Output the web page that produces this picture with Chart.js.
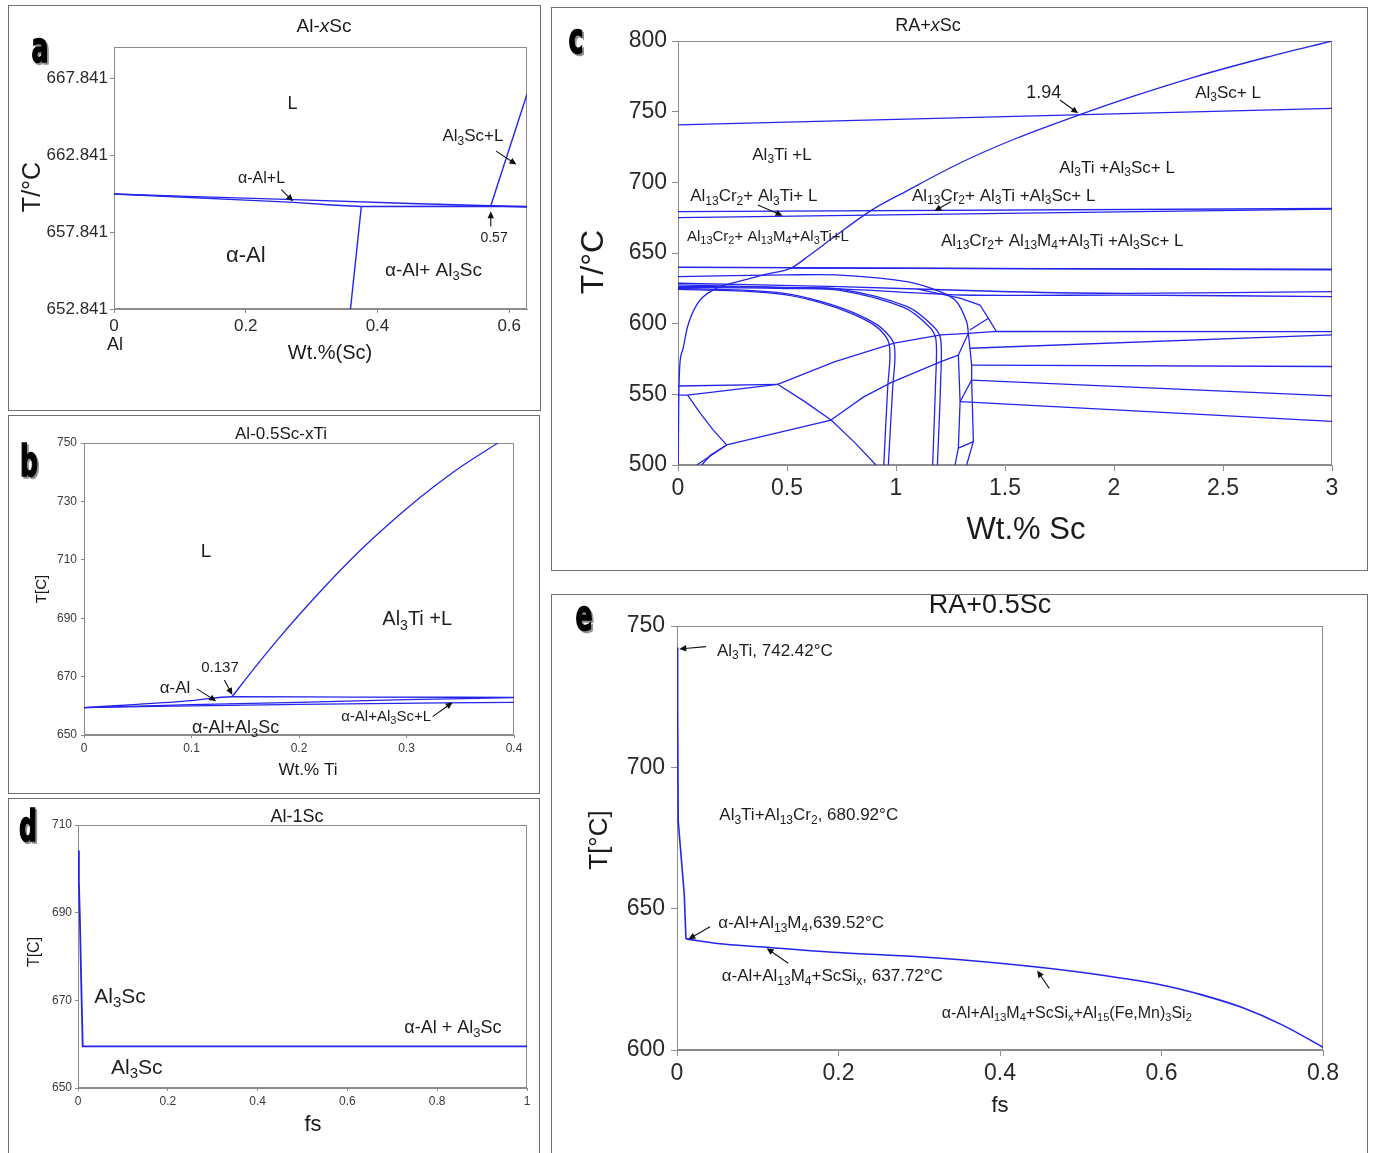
<!DOCTYPE html>
<html><head><meta charset="utf-8">
<script src="https://cdn.jsdelivr.net/npm/chart.js@4.4.1/dist/chart.umd.min.js"></script>
<style>
html,body{margin:0;padding:0;background:#fff;width:1375px;height:1153px;overflow:hidden;}
.cv{position:absolute;}
.frame{position:absolute;box-sizing:border-box;border:1.5px solid #6f6f6f;pointer-events:none;}
</style></head><body>
<script>
// ================= DATA =================
// ---- Panel a : Al-xSc ----
const aTicksX = [0, 0.2, 0.4, 0.6];
const aTickLabelsX = ['0', '0.2', '0.4', '0.6'];
const aTicksY = [652.841, 657.841, 662.841, 667.841];
const aTickLabelsY = ['652.841', '657.841', '662.841', '667.841'];
const aLiquidus = [[0,660.32],[0.1,660.18],[0.273,659.95],[0.45,659.7],[0.572,659.55],[0.627,659.5]];
const aSolidus  = [[0,660.32],[0.1,660.12],[0.2,659.92],[0.273,659.77],[0.33,659.6],[0.3755,659.5]];
const aEutectic = [[0.3755,659.5],[0.572,659.52],[0.627,659.47]];
const aSolvus   = [[0.3755,659.5],[0.359,652.841]];
const aAl3ScLiq = [[0.572,659.55],[0.627,666.8]];

// ---- Panel b : Al-0.5Sc-xTi ----
const bTicksX = [0, 0.1, 0.2, 0.3, 0.4];
const bTickLabelsX = ['0', '0.1', '0.2', '0.3', '0.4'];
const bTicksY = [650, 670, 690, 710, 730, 750];
const bTickLabelsY = ['650', '670', '690', '710', '730', '750'];
const bAl3TiLiq = [[0.1377,663.1],[0.16,673.6],[0.18,682.6],[0.2,691.1],[0.225,701.2],[0.25,710.7],[0.275,719.4],[0.3,727.5],[0.325,734.9],[0.35,741.7],[0.385,750]];
const bUpper = [[0,659.4],[0.05,660.5],[0.1,661.8],[0.1377,663.1],[0.25,663.0],[0.4,662.9]];
const bMiddle = [[0,659.4],[0.1,660.4],[0.2,661.2],[0.3,662.1],[0.4,662.8]];
const bLower = [[0,659.4],[0.2,660.5],[0.4,661.2]];

// ---- Panel c : RA+xSc ----
const cTicksX = [0, 0.5, 1, 1.5, 2, 2.5, 3];
const cTickLabelsX = ['0', '0.5', '1', '1.5', '2', '2.5', '3'];
const cTicksY = [500, 550, 600, 650, 700, 750, 800];
const cTickLabelsY = ['500', '550', '600', '650', '700', '750', '800'];
const cAl3TiLiq = [[0,740.6],[3,752.3]];
const cAl3ScCurve = [[0.001,500],[0.003,540],[0.008,570],[0.021,581],[0.044,598],[0.09,614.4],[0.167,624.3],[0.274,629.7],[0.4,634.8],[0.518,639.3],[0.6,648],[0.7,659.5],[0.885,680],[1.05,694],[1.294,713.7],[1.55,731],[1.853,748.4],[2.1,761.5],[2.369,774.5],[2.7,788.5],[3,800]];
const cCr2Upper = [[0,679.3],[3,681.5]];
const cCr2Lower = [[0,675.1],[3,681.0]];
const cM4Line = [[0,639.9],[3,638.1]];
const cM4Line2 = [[0.518,639.3],[3,638.5]];
const cH1 = [[0,628.6],[0.743,626.2],[1.523,622.6],[2.06,621.5],[3,622.7]];
const cH2 = [[0,627.4],[0.743,624.6],[1.3,620.3],[2.06,620.2],[3,619.2]];
const cArc3 = [[0,633.3],[0.5,634.5],[0.743,634.4],[1.049,629.7],[1.202,622.6],[1.278,615.5],[1.324,601.4],[1.332,593.2]];
const cArc1a = [[0,625.0],[0.3,623.8],[0.488,621.5],[0.65,616],[0.794,608.5],[0.916,599],[0.965,592],[0.99,586],[0.995,575],[0.985,555],[0.965,500]];
const cArc1b = [[0,624.2],[0.3,623.0],[0.488,620.5],[0.65,615],[0.794,607.3],[0.9,599],[0.948,592],[0.968,586],[0.972,575],[0.962,555],[0.944,500]];
const cArc2a = [[0,626.2],[0.3,626],[0.5,625.5],[0.743,624.5],[1.049,612.3],[1.171,598.2],[1.205,589],[1.205,560],[1.19,500]];
const cArc2b = [[0,625.6],[0.3,625.3],[0.5,624.8],[0.743,623.6],[1.035,611.5],[1.15,598.2],[1.183,589],[1.182,560],[1.168,500]];
const cLine594 = [[0.457,557.1],[0.717,573],[0.992,586.3],[1.206,592],[1.332,593.2],[1.46,594.5],[3,594.4]];
const cLine592 = [[1.34,582.6],[3,592.1]];
const cLine570 = [[1.347,570.7],[3,569.7]];
const cLine560 = [[1.347,560.1],[3,548.9]];
const cLine545 = [[1.294,544.8],[3,530.8]];
const cLine556 = [[0,555.9],[0.457,557.1]];
const cLine549 = [[0,549.5],[0.044,549.5],[0.457,557.1]];
const cJ1 = [[0.044,549.5],[0.1,537],[0.16,525],[0.223,514.2]];
const cJ2 = [[0.223,514.2],[0.702,531.8]];
const cJ3 = [[0.457,557.1],[0.58,545],[0.702,531.8],[0.81,516],[0.908,500]];
const cJ4 = [[0.702,531.8],[0.85,548],[0.977,558.3],[1.206,573.1],[1.286,577.8]];
const cJ5a = [[0.223,514.2],[0.086,500]];
const cJ5b = [[0.223,514.2],[0.15,507],[0.109,500]];
const cLoop = [[1.1,624.5],[1.294,618],[1.385,613.2],[1.424,603.8],[1.459,594.8]];
const cLoop2 = [[1.339,595.5],[1.424,603.8]];
const cV1 = [[1.332,593.2],[1.347,570.7],[1.347,560.1],[1.355,516.6],[1.324,500]];
const cV2 = [[1.286,577.8],[1.294,544.8],[1.286,511.9],[1.271,500]];
const cV3 = [[1.294,544.8],[1.347,560.1]];
const cV4 = [[1.286,511.9],[1.355,516.6]];
const cV5 = [[1.286,577.8],[1.332,593.2]];

// ---- Panel d : Al-1Sc ----
const dTicksX = [0, 0.2, 0.4, 0.6, 0.8, 1];
const dTickLabelsX = ['0', '0.2', '0.4', '0.6', '0.8', '1'];
const dTicksY = [650, 670, 690, 710];
const dTickLabelsY = ['650', '670', '690', '710'];
const dCooling = [[0,704.2],[0.002,697],[0.004,689.5],[0.007,675],[0.0105,659.5],[0.3,659.5],[0.6,659.5],[1,659.5]];

// ---- Panel e : RA+0.5Sc ----
const eTicksX = [0, 0.2, 0.4, 0.6, 0.8];
const eTickLabelsX = ['0', '0.2', '0.4', '0.6', '0.8'];
const eTicksY = [600, 650, 700, 750];
const eTickLabelsY = ['600', '650', '700', '750'];
const eCoolingPrimary = [[0,742.4],[0.0008,720],[0.0015,681],[0.009,655],[0.0111,639.3]];
const eCoolingEutectic = [[0.0111,639.3],[0.05,637.7],[0.103,636.5],[0.2,634.5],[0.3,633],[0.4,630.7],[0.5,627.5],[0.6,623],[0.65,619.5],[0.7,615],[0.75,608.8],[0.8,601]];

// ================= RENDERING =================
const FONT = '"Liberation Sans", Arial, sans-serif';
const LINE = 'rgb(36,36,236)';
const AX = '#8c8c8c';
const SMOOTH_MONO = new Set([bAl3TiLiq, bUpper, bMiddle, bLower, cAl3ScCurve, eCoolingEutectic]);
const SMOOTH_TENSION = new Set([cArc1a, cArc1b, cArc2a, cArc2b, cArc3, cH1, cH2]);

function parseRich(s){
  const out=[]; let i=0, buf='';
  while(i<s.length){
    const c=s[i];
    if((c==='_'||c==='^'||c==='~') && s[i+1]==='{'){
      if(buf){out.push({t:buf,m:'n'});buf='';}
      const j=s.indexOf('}',i+2);
      out.push({t:s.slice(i+2,j), m:c==='_'?'sub':(c==='^'?'sup':'it')});
      i=j+1;
    } else {buf+=c;i++;}
  }
  if(buf) out.push({t:buf,m:'n'});
  return out;
}
function drawRich(ctx, s, x, y, size, align, color, rot, family){
  const fam = family || FONT;
  const segs=parseRich(s);
  const fontFor=m=>(m==='it'?'italic ':'')+((m==='sub'||m==='sup')?Math.round(size*0.7):size)+'px '+fam;
  let w=0;
  segs.forEach(g=>{ctx.font=fontFor(g.m); g.w=ctx.measureText(g.t).width; w+=g.w;});
  ctx.save();
  ctx.translate(x,y);
  if(rot) ctx.rotate(rot);
  let cx = align==='center'? -w/2 : (align==='right'? -w : 0);
  ctx.fillStyle=color||'#222'; ctx.textBaseline='middle'; ctx.textAlign='left';
  segs.forEach(g=>{
    ctx.font=fontFor(g.m);
    const dy = g.m==='sub'? size*0.3 : (g.m==='sup'? -size*0.35 : 0);
    ctx.fillText(g.t,cx,dy); cx+=g.w;
  });
  ctx.restore();
}
function drawArrow(ctx,x1,y1,x2,y2){
  const ang=Math.atan2(y2-y1,x2-x1), hl=7, hw=3.2;
  ctx.save();
  ctx.strokeStyle='#111'; ctx.fillStyle='#111'; ctx.lineWidth=1.1;
  ctx.beginPath(); ctx.moveTo(x1,y1); ctx.lineTo(x2-Math.cos(ang)*hl*0.8,y2-Math.sin(ang)*hl*0.8); ctx.stroke();
  ctx.beginPath();
  ctx.moveTo(x2,y2);
  ctx.lineTo(x2-Math.cos(ang)*hl+Math.sin(ang)*hw, y2-Math.sin(ang)*hl-Math.cos(ang)*hw);
  ctx.lineTo(x2-Math.cos(ang)*hl-Math.sin(ang)*hw, y2-Math.sin(ang)*hl+Math.cos(ang)*hw);
  ctx.closePath(); ctx.fill();
  ctx.restore();
}

function makePanel(p){
  const [bx,by,bw,bh]=p.box;
  const cv=document.createElement('canvas'); cv.className='cv';
  cv.width=bw; cv.height=bh;
  Object.assign(cv.style,{left:bx+'px',top:by+'px',width:bw+'px',height:bh+'px'});
  document.body.appendChild(cv);
  const fr=document.createElement('div'); fr.className='frame';
  Object.assign(fr.style,{left:bx+'px',top:by+'px',width:bw+'px',height:bh+'px'});
  document.body.appendChild(fr);
  const [L,T,R,B]=p.area;
  const yw=L-bx, pt=T-by, pr=bx+bw-R, xh=by+bh-B;
  const deco={
    id:'deco_'+p.id,
    beforeDatasetsDraw(c){
      const a=c.chartArea, ctx=c.ctx;
      ctx.save(); ctx.strokeStyle=AX; ctx.lineWidth=1;
      ctx.strokeRect(Math.round(a.left)+0.5, Math.round(a.top)+0.5, Math.round(a.right-a.left)-1, Math.round(a.bottom-a.top)-1);
      ctx.restore();
    },
    afterDraw(c){
      const ctx=c.ctx, xs=c.scales.x, ys=c.scales.y;
      const X=v=>xs.getPixelForValue(v), Y=v=>ys.getPixelForValue(v);
      // panel letter (heavy, condensed, with grey drop shadow)
      ctx.save();
      ctx.translate(p.letter[1], p.letter[2]);
      ctx.scale(0.82,1.25);
      ctx.font='bold 34px "DejaVu Sans Condensed", "DejaVu Sans", sans-serif';
      ctx.textAlign='center'; ctx.textBaseline='middle';
      ctx.lineJoin='miter';
      ctx.fillStyle='#909090'; ctx.strokeStyle='#909090'; ctx.lineWidth=1.2;
      ctx.strokeText(p.letter[0],2.2,1.8); ctx.fillText(p.letter[0],2.2,1.8);
      ctx.fillStyle='#000'; ctx.strokeStyle='#000'; ctx.lineWidth=1.2;
      ctx.strokeText(p.letter[0],0,0); ctx.fillText(p.letter[0],0,0);
      ctx.restore();
      // fixed texts (titles, axis titles) in canvas pixels
      p.fixed.forEach(l=>drawRich(ctx,l[0],l[1],l[2],l[3],'center','#1a1a1a',l[4]?-Math.PI/2:0,l[5]));
      // annotations in data coordinates
      p.notes.forEach(l=>drawRich(ctx,l.t,X(l.x),Y(l.y),l.s,l.al||'center','#1e1e1e',0,l.f));
      (p.arrows||[]).forEach(a=>drawArrow(ctx,X(a[0]),Y(a[1]),X(a[2]),Y(a[3])));
    }
  };
  const axisOpts=(min,max,ticks,labels,isX)=>({
    type:'linear', min:min, max:max,
    afterFit:s=>{ if(isX) s.height=xh; else s.width=yw; },
    afterBuildTicks:s=>{ s.ticks=ticks.map(v=>({value:v})); },
    ticks:{autoSkip:false, maxRotation:0, minRotation:0, font:{family:FONT,size:p.tf}, color:p.tc||'#2a2a2a',
      padding:isX?p.padX:p.padY, callback:(v,i)=>labels[i]},
    grid:{display:true, drawOnChartArea:false, drawTicks:true, tickLength:isX?p.tlX:p.tlY, color:AX, lineWidth:1},
    border:{display:true, color:AX, width:1}
  });
  new Chart(cv,{
    type:'scatter',
    data:{datasets:p.series.map(s=>({data:s.map(q=>({x:q[0],y:q[1]})), showLine:true, borderColor:LINE,
      borderWidth:p.lw, pointRadius:0, pointHoverRadius:0, fill:false,
      cubicInterpolationMode: SMOOTH_MONO.has(s)?'monotone':'default',
      tension: SMOOTH_TENSION.has(s)?0.3:0}))},
    options:{
      responsive:false, animation:false, events:[], devicePixelRatio:1,
      layout:{padding:{top:pt,right:pr,left:0,bottom:0}},
      plugins:{legend:{display:false}, tooltip:{enabled:false}, title:{display:false}},
      scales:{x:axisOpts(p.x[0],p.x[1],p.xt,p.xl,true), y:axisOpts(p.y[0],p.y[1],p.yt,p.yl,false)}
    },
    plugins:[deco]
  });
}

// ---- Panel a ----
makePanel({id:'a', box:[8,5,533,406], area:[114,47,527,309], x:[0,0.627], y:[652.841,669.87],
  xt:aTicksX, xl:aTickLabelsX, yt:aTicksY, yl:aTickLabelsY, tf:17, tlX:4, tlY:4, padX:3, padY:2, lw:1.4,
  series:[aLiquidus,aSolidus,aEutectic,aSolvus,aAl3ScLiq],
  letter:['a',32,46],
  fixed:[['Al-~{x}Sc',316,22,19],['T/°C',25,182,25,true],['Wt.%(Sc)',322,348,20],['Al',107,340,18]],
  notes:[{t:'L',x:0.271,y:666.14,s:18},{t:'Al_{3}Sc+L',x:0.545,y:664.05,s:17},{t:'α-Al+L',x:0.224,y:661.32,s:16},
    {t:'0.57',x:0.577,y:657.47,s:14},{t:'α-Al',x:0.2,y:656.3,s:22},{t:'α-Al+ Al_{3}Sc',x:0.485,y:655.3,s:19}],
  arrows:[[0.58,663.1,0.611,662.23],[0.254,660.6,0.272,659.84],[0.572,658.2,0.572,659.19]]
});

// ---- Panel b ----
makePanel({id:'b', box:[8,415,532,379], area:[84,443,514,735], x:[0,0.4], y:[650,750],
  xt:bTicksX, xl:bTickLabelsX, yt:bTicksY, yl:bTickLabelsY, tf:12, tlX:3, tlY:3, padX:3, padY:4, lw:1.3, tc:'#3a3a3a',
  series:[bAl3TiLiq,bUpper,bMiddle,bLower],
  letter:['b',21,50],
  fixed:[['Al-0.5Sc-xTi',273,19,17],['T[C]',34,174,15,true],['Wt.% Ti',300,355,17]],
  notes:[{t:'L',x:0.1135,y:712.7,s:19},{t:'Al_{3}Ti +L',x:0.31,y:689.4,s:20},{t:'0.137',x:0.1265,y:673,s:15},
    {t:'α-Al',x:0.0847,y:666.0,s:17},{t:'α-Al+Al_{3}Sc',x:0.141,y:652.4,s:18},{t:'α-Al+Al_{3}Sc+L',x:0.281,y:656.2,s:15}],
  arrows:[[0.105,665.8,0.123,661.6],[0.1306,668.8,0.138,663.7],[0.3243,656.3,0.343,661.2]]
});

// ---- Panel c ----
makePanel({id:'c', box:[551,7,817,564], area:[678,41,1332,465], x:[0,3], y:[500,800],
  xt:cTicksX, xl:cTickLabelsX, yt:cTicksY, yl:cTickLabelsY, tf:23, tlX:6, tlY:6, padX:4, padY:5, lw:1.3,
  series:[cAl3TiLiq,cAl3ScCurve,cCr2Upper,cCr2Lower,cM4Line,cM4Line2,cH1,cH2,cArc3,cArc1a,cArc1b,cArc2a,cArc2b,
    cLine594,cLine592,cLine570,cLine560,cLine545,cLine556,cLine549,cJ1,cJ2,cJ3,cJ4,cJ5a,cJ5b,cLoop,cLoop2,cV1,cV2,cV3,cV4,cV5],
  letter:['c',25,35],
  fixed:[['RA+~{x}Sc',377,19,18],['T/°C',43,255,32,true],['Wt.% Sc',475,523,31]],
  notes:[{t:'1.94',x:1.678,y:763,s:18},{t:'Al_{3}Sc+ L',x:2.523,y:763.2,s:17},{t:'Al_{3}Ti +L',x:0.477,y:719.3,s:17},
    {t:'Al_{3}Ti +Al_{3}Sc+ L',x:2.014,y:710.1,s:17},
    {t:'Al_{13}Cr_{2}+ Al_{3}Ti+ L',x:0.056,y:689.8,s:17,al:'left'},
    {t:'Al_{13}Cr_{2}+ Al_{3}Ti +Al_{3}Sc+ L',x:1.073,y:690.3,s:17,al:'left'},
    {t:'Al_{13}Cr_{2}+ Al_{13}M_{4}+Al_{3}Ti+L',x:0.041,y:661.5,s:15,al:'left'},
    {t:'Al_{13}Cr_{2}+ Al_{13}M_{4}+Al_{3}Ti +Al_{3}Sc+ L',x:1.206,y:658.5,s:17,al:'left'}],
  arrows:[[1.752,758.3,1.836,748.8],[0.366,684,0.48,676.4],[1.252,686.3,1.176,679.7]]
});

// ---- Panel d ----
makePanel({id:'d', box:[8,798,532,360], area:[78,825,527,1088], x:[0,1], y:[650,710],
  xt:dTicksX, xl:dTickLabelsX, yt:dTicksY, yl:dTickLabelsY, tf:12, tlX:3, tlY:3, padX:3, padY:3, lw:1.8, tc:'#3a3a3a',
  series:[dCooling],
  letter:['d',20,32],
  fixed:[['Al-1Sc',289,19,18],['T[C]',27,154,16,true],['fs',305,327,22]],
  notes:[{t:'Al_{3}Sc',x:0.0935,y:670.8,s:21},{t:'Al_{3}Sc',x:0.131,y:654.6,s:21},{t:'α-Al + Al_{3}Sc',x:0.835,y:663.7,s:18}],
  arrows:[]
});

// ---- Panel e ----
makePanel({id:'e', box:[551,594,817,565], area:[677,626,1323,1050], x:[0,0.8], y:[600,750],
  xt:eTicksX, xl:eTickLabelsX, yt:eTicksY, yl:eTickLabelsY, tf:23, tlX:6, tlY:6, padX:4, padY:6, lw:1.6,
  series:[eCoolingPrimary, eCoolingEutectic],
  letter:['e',33,25],
  fixed:[['RA+0.5Sc',439,12,27],['T[°C]',49,246,26,true],['fs',449,512,22]],
  notes:[{t:'Al_{3}Ti, 742.42°C',x:0.0495,y:741.2,s:17,al:'left'},
    {t:'Al_{3}Ti+Al_{13}Cr_{2}, 680.92°C',x:0.0524,y:682.9,s:17,al:'left'},
    {t:'α-Al+Al_{13}M_{4},639.52°C',x:0.0512,y:644.8,s:17,al:'left'},
    {t:'α-Al+Al_{13}M_{4}+ScSi_{x}, 637.72°C',x:0.0553,y:625.9,s:17,al:'left'},
    {t:'α-Al+Al_{13}M_{4}+ScSi_{x}+Al_{15}(Fe,Mn)_{3}Si_{2}',x:0.3278,y:613,s:16,al:'left'}],
  arrows:[[0.0359,742.7,0.0028,741.9],[0.0409,643.6,0.014,639.2],[0.1378,630.7,0.111,636],[0.461,621.8,0.446,628.1]]
});
</script>
</body></html>
